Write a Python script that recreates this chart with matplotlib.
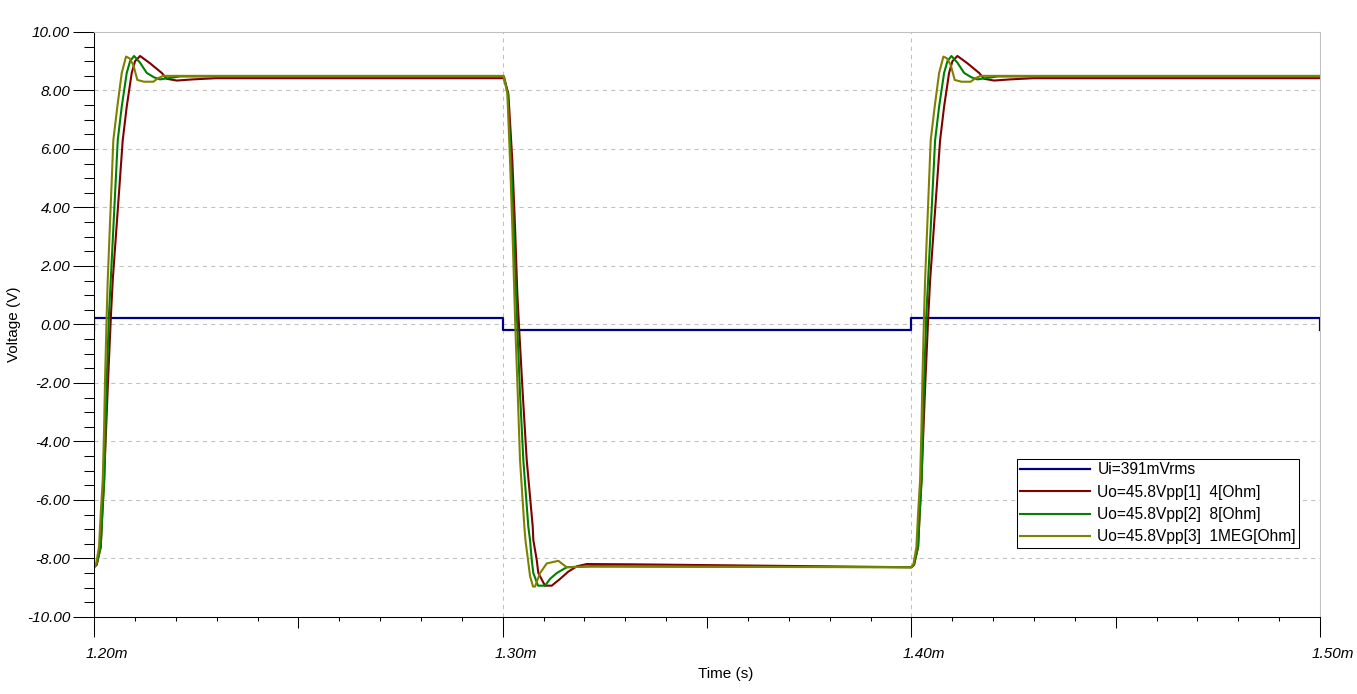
import numpy as np
import matplotlib
matplotlib.use("Agg")
import matplotlib.pyplot as plt
from matplotlib import font_manager as fm
from matplotlib.ticker import MultipleLocator, NullLocator
from matplotlib.transforms import ScaledTranslation

plt.rcParams['font.family'] = ['Liberation Sans', 'DejaVu Sans']

# edge times (ms)
rise_edges = [1.20, 1.40]
fall_edge = 1.30
t_end = 1.50

# input square wave
ui_times = [1.20, 1.20, 1.30, 1.30, 1.40, 1.40, 1.50, 1.50]
ui_volts = [-0.18, 0.23, 0.23, -0.18, -0.18, 0.23, 0.23, -0.18]

# output responses, time offset from edge in microseconds
# 4 ohm (red)
red_rise_us = [0, 0.66, 1.64, 2.03, 2.45, 2.94, 3.43, 4.16, 4.58, 7.02, 8.00, 9.22, 10.03, 11.26,
               13.70, 16.57, 17.79, 20.24, 24.22, 29.85]
red_rise_v = [-8.30, -8.22, -7.60, -6.45, -5.30, -3.60, -1.90, 0.39, 1.52, 6.30, 7.45, 8.60, 9.00, 9.18,
              8.93, 8.60, 8.40, 8.34, 8.38, 8.42]
red_fall_us = [0, 0.32, 1.37, 2.35, 3.01, 3.57, 3.99, 4.89, 5.87, 7.34, 7.49, 8.32, 8.71, 10.35, 11.99,
               14.02, 16.05, 18.11, 20.55, 31.64]
red_fall_v = [8.42, 8.42, 7.90, 5.60, 3.34, 1.07, -0.07, -2.35, -4.63, -6.91, -7.37, -8.05, -8.50, -8.93,
              -8.93, -8.70, -8.45, -8.27, -8.19, -8.20]

# 8 ohm (green)
grn_rise_us = [0, 0.61, 1.64, 2.03, 2.52, 3.11, 3.67, 4.09, 5.80, 6.78, 8.00, 8.81, 9.79, 11.26,
               12.90, 14.68, 16.15, 21.04]
grn_rise_v = [-8.30, -8.20, -7.60, -6.45, -5.30, -1.90, 0.39, 1.52, 6.30, 7.45, 8.60, 9.00, 9.18, 8.95,
              8.60, 8.45, 8.38, 8.48]
grn_fall_us = [0, 0.32, 1.22, 2.03, 2.69, 3.25, 3.57, 4.23, 5.04, 6.26, 6.68, 7.10, 7.49, 8.64, 10.35,
               11.57, 13.21, 15.66, 21.85]
grn_fall_v = [8.48, 8.48, 7.90, 5.60, 3.34, 1.07, -0.07, -2.35, -4.63, -6.91, -7.37, -8.05, -8.50, -8.93,
              -8.93, -8.70, -8.50, -8.30, -8.26]

# 1MEG ohm (olive)
olv_rise_us = [0, 0.49, 1.22, 1.64, 2.13, 2.45, 2.69, 3.11, 3.35, 4.72, 5.70, 6.78, 7.83, 8.69, 9.62,
               10.60, 12.23, 14.51, 15.66, 16.96]
olv_rise_v = [-8.30, -8.20, -7.60, -6.45, -5.30, -3.60, -1.90, 0.39, 1.52, 6.30, 7.45, 8.60, 9.16, 9.10,
              8.87, 8.36, 8.30, 8.30, 8.42, 8.50]
olv_fall_us = [0, 0.20, 1.13, 1.79, 2.35, 2.84, 3.08, 3.67, 4.23, 5.29, 5.58, 6.19, 6.68, 7.41, 7.90,
               9.13, 10.77, 13.61, 15.66, 21.36]
olv_fall_v = [8.50, 8.50, 7.90, 5.60, 3.34, 1.07, -0.07, -2.35, -4.63, -6.91, -7.40, -8.05, -8.60, -8.96,
              -8.96, -8.50, -8.17, -8.08, -8.30, -8.28]

labels = ['Ui=391mVrms', 'Uo=45.8Vpp[1]  4[Ohm]', 'Uo=45.8Vpp[2]  8[Ohm]', 'Uo=45.8Vpp[3]  1MEG[Ohm]']
colors = ['#000080', '#800000', '#008000', '#808000']


def build(rise_us, rise_v, fall_us, fall_v):
    r = np.array(rise_us) / 1000.0
    f = np.array(fall_us) / 1000.0
    t = np.concatenate([rise_edges[0] + r, fall_edge + f, rise_edges[1] + r, [t_end]])
    v = np.concatenate([rise_v, fall_v, rise_v, [rise_v[-1]]])
    return t, v


def italic_font(size):
    # look for a real italic file, Arial-like first
    for fam in ['Liberation Sans', 'Arimo', 'Roboto', 'Noto Sans', 'Open Sans', 'Lato', 'DejaVu Sans']:
        for f in fm.fontManager.ttflist:
            if f.name == fam and f.style in ('italic', 'oblique') and f.weight in (400, 'normal', 'regular'):
                return fm.FontProperties(fname=f.fname, size=size)
    return fm.FontProperties(family='Liberation Sans', style='italic', size=size)


fig = plt.figure(figsize=(13.57, 6.94), dpi=100)
ax = fig.add_axes([0.0693, 0.1110, 0.9035, 0.8429])

ax.plot(ui_times, ui_volts, color=colors[0], lw=1.6, label=labels[0])
for (ru, rv, fu, fv), c, lab in zip(
        [(red_rise_us, red_rise_v, red_fall_us, red_fall_v),
         (grn_rise_us, grn_rise_v, grn_fall_us, grn_fall_v),
         (olv_rise_us, olv_rise_v, olv_fall_us, olv_fall_v)],
        colors[1:], labels[1:]):
    t, v = build(ru, rv, fu, fv)
    ax.plot(t, v, color=c, lw=1.5, label=lab)

ax.set_xlim(1.20, 1.50)
ax.set_ylim(-10, 10)

ax.set_xticks([1.20, 1.30, 1.40, 1.50], ['1.20m', '1.30m', '1.40m', '1.50m'])
ax.xaxis.set_minor_locator(MultipleLocator(0.01))
yt = np.arange(-10, 10.01, 2)
ax.set_yticks(yt, ['%.2f' % y for y in yt])
ax.yaxis.set_minor_locator(MultipleLocator(0.5))

ax.tick_params(axis='x', which='major', length=14.4, width=0.75, pad=7, direction='out')
ax.tick_params(axis='x', which='minor', length=2.9, width=0.75, direction='out')
ax.tick_params(axis='y', which='major', length=15.1, width=0.75, pad=2, direction='out')
ax.tick_params(axis='y', which='minor', length=7.2, width=0.75, direction='out')

# medium ticks at the half-way points
sec = ax.secondary_xaxis('bottom')
sec.set_xticks([1.25, 1.35, 1.45])
sec.xaxis.set_minor_locator(NullLocator())
sec.tick_params(length=7.9, width=0.75, labelbottom=False)
sec.spines['bottom'].set_visible(False)

ax.grid(True, which='major', color='#c0c0c0', lw=0.75, ls=(0, (4, 4)))
ax.set_axisbelow(True)

for s in ['left', 'bottom']:
    ax.spines[s].set_color('black')
    ax.spines[s].set_linewidth(0.75)
for s in ['top', 'right']:
    ax.spines[s].set_color('#c0c0c0')
    ax.spines[s].set_linewidth(0.75)

ax.set_xlabel('Time (s)', fontsize=11)
ax.set_ylabel('Voltage (V)', fontsize=11)
ax.xaxis.set_label_coords(0.515, -0.0855)
ax.yaxis.set_label_coords(-0.0595, 0.5)

leg = ax.legend(loc='upper left', bbox_to_anchor=(0.7529, 0.2701), borderaxespad=0,
                fontsize=11.2, handlelength=4.5, handletextpad=0.46, labelspacing=0.48,
                borderpad=0.2, fancybox=False, framealpha=1, edgecolor='black')
leg.get_frame().set_linewidth(0.75)

fig.canvas.draw()
ifont = italic_font(11)
off = ScaledTranslation(-8.5 / 100, 0, fig.dpi_scale_trans)
for lb in ax.get_xticklabels():
    lb.set_fontproperties(ifont)
    lb.set_horizontalalignment('left')
    lb.set_transform(lb.get_transform() + off)
for lb in ax.get_yticklabels():
    lb.set_fontproperties(ifont)

fig.savefig('out.png', dpi=100)
